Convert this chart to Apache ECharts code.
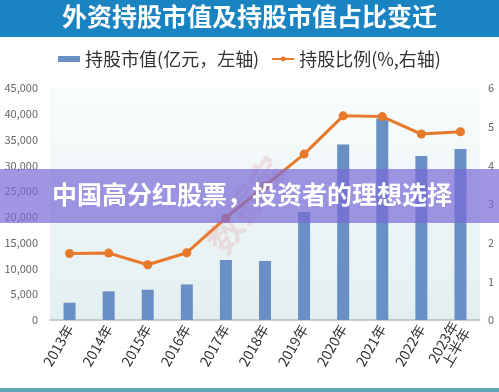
<!DOCTYPE html>
<html><head><meta charset="utf-8">
<script src="https://cdn.jsdelivr.net/npm/echarts@6/dist/echarts.min.js"></script>
<style>html,body{margin:0;padding:0;background:#fff}#c{width:499px;height:392px}</style>
</head><body><div id="c"></div>
<script>
const categories = ['2013年','2014年','2015年','2016年','2017年','2018年','2019年','2020年','2021年','2022年','2023年\n上半年'];
const marketValue = [3350, 5550, 5880, 6900, 11640, 11440, 20950, 34050, 39100, 31800, 33150];
const ratio = [1.72, 1.73, 1.43, 1.74, 2.64, 3.47, 4.29, 5.28, 5.26, 4.81, 4.87];
const leftTicks = [0, 5000, 10000, 15000, 20000, 25000, 30000, 35000, 40000, 45000];
const rightTicks = [0, 1, 2, 3, 4, 5, 6];

const chart = echarts.init(document.getElementById('c'));
const font = '"Noto Sans CJK SC", "Noto Sans", sans-serif';
chart.setOption({
  animation: false,
  textStyle: {fontFamily: font},
  legend: {
    top: 45, left: 'center', itemGap: 12,
    textStyle: {fontSize: 18, color: '#333', fontFamily: font},
    data: [
      {name: '持股市值(亿元，左轴)', icon: 'rect', itemStyle: {color: '#6a8fc4'}},
      {name: '持股比例(%,右轴)'}
    ],
    itemWidth: 22, itemHeight: 6
  },
  grid: {left: 50, right: 19, top: 88, bottom: 72, show: true, borderWidth: 0,
    backgroundColor: {type: 'linear', x: 0, y: 0, x2: 0, y2: 1, colorStops: [
      {offset: 0, color: '#f9fcfc'}, {offset: 1, color: '#e2eff1'}]}},
  xAxis: {
    type: 'category', data: categories,
    axisLine: {lineStyle: {color: '#bbbbbb', width: 1.5}},
    axisTick: {show: false},
    axisLabel: {rotate: 60, color: '#333', fontSize: 14, margin: 6, lineHeight: 14, fontFamily: font}
  },
  yAxis: [
    {type: 'value', min: 0, max: 45000, interval: 5000,
      splitLine: {show: false}, axisLine: {show: false}, axisTick: {show: false},
      axisLabel: {color: '#666', fontSize: 11, margin: 12, fontFamily: font}},
    {type: 'value', min: 0, max: 6, interval: 1,
      splitLine: {show: false}, axisLine: {show: false}, axisTick: {show: false},
      axisLabel: {color: '#666', fontSize: 11, margin: 8, fontFamily: font}}
  ],
  series: [
    {name: '持股市值(亿元，左轴)', type: 'bar', data: marketValue, barWidth: 12,
      itemStyle: {color: '#6a8fc4'}},
    {name: '持股比例(%,右轴)', type: 'line', yAxisIndex: 1, data: ratio,
      symbol: 'circle', symbolSize: 9,
      lineStyle: {color: '#e8782a', width: 3}, itemStyle: {color: '#e8782a'}}
  ],
  graphic: [
    {type: 'rect', left: 0, top: 0, shape: {width: 499, height: 37}, style: {fill: '#1a84c2'}},
    {type: 'text', left: 'center', top: 4, style: {text: '外资持股市值及持股市值占比变迁', fill: '#fff', font: 'bold 25px "Noto Sans CJK SC"'}},
    {type: 'text', x: 200, y: 238, rotation: 0.95, style: {text: '数据宝', fill: 'rgba(225,130,130,0.22)', font: 'bold 36px "Noto Sans CJK SC"'}, z: 50},
    {type: 'rect', left: 0, top: 169, shape: {width: 499, height: 54}, style: {fill: 'rgba(120,105,215,0.7)'}, z: 100},
    {type: 'text', x: 52, y: 182, style: {text: '中国高分红股票，投资者的理想选择', fill: '#fff', font: 'bold 25px "Noto Sans CJK SC"'}, z: 101},
    {type: 'rect', left: 0, top: 388, shape: {width: 499, height: 4}, style: {fill: '#62a8ba'}}
  ]
});
</script></body></html>
